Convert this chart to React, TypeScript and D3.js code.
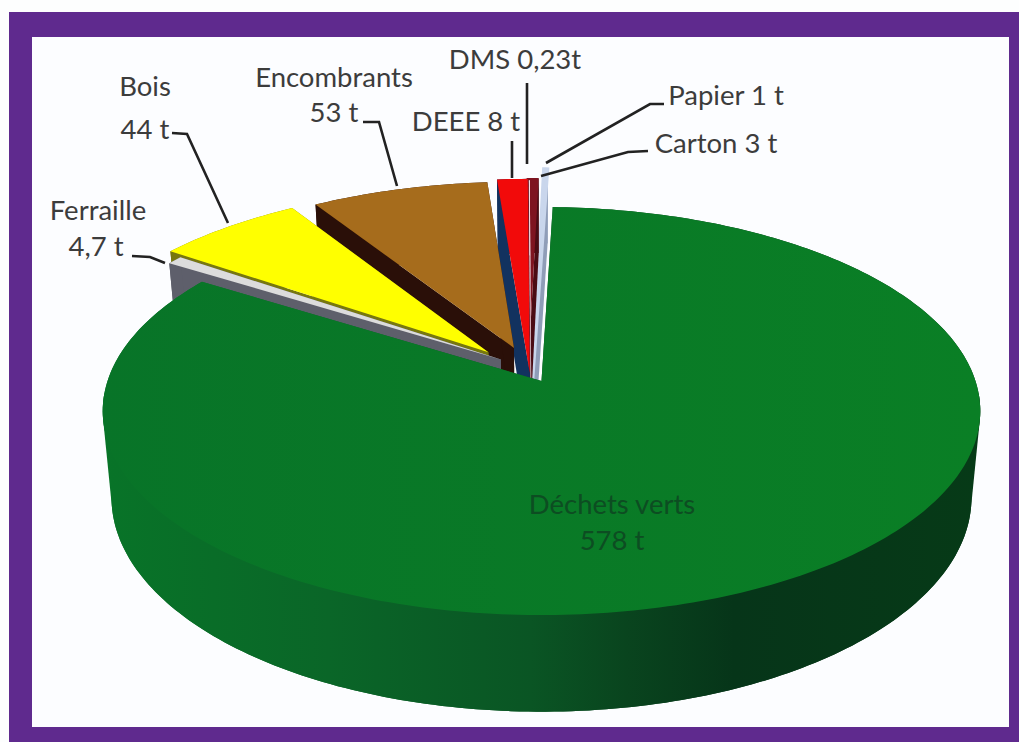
import * as d3 from "d3";

const slices = ["Déchets verts", "Ferraille", "Bois", "Encombrants", "DEEE", "DMS", "Carton", "Papier"];
const tonnes = [578, 4.7, 44, 53, 8, 0.23, 3, 1];

const topColors = ["url(#greenTop)", "#dcdcdc", "#ffff00", "#a66c1c", "#f20a0a", "#fbe9ee", "#7e1420", "#c9d6ec"];
const wallColors = ["url(#greenWall)", "#5e5f6b", "#77770f", "#2a0f08", "#12325f", "#d8c0c8", "#4a0c14", "#8f9db8"];
const outlineWidth = [0, 0, 0, 0, 0, 0, 0, 3];

// how far each slice is pulled out of the pie (disc coordinates), and its radius
const shiftU = [0, -0.095, -0.125, -0.065, -0.027, -0.024, -0.032, -0.02];
const shiftV = [0, -0.11, -0.147, -0.17, -0.04, -0.03, -0.015, -0.01];
const reach = [1, 1, 1, 1, 1.15, 1.15, 1.18, 1.25];

const labelLines = [
  "Déchets verts", "578 t", "Ferraille", "4,7 t", "Bois", "44 t", "Encombrants", "53 t",
  "DEEE 8 t", "DMS 0,23t", "Carton 3 t", "Papier 1 t",
];
const labelX = [612, 612, 98, 96, 145, 145, 334, 334, 466, 515, 716, 726];
const labelY = [507, 543, 213, 249, 89, 132, 80, 115, 124, 62, 146, 98];
const labelFill = ["#0d4d22", "#0d4d22", "#3c3c3c", "#3c3c3c", "#3c3c3c", "#3c3c3c", "#3c3c3c", "#3c3c3c", "#3c3c3c", "#3c3c3c", "#3c3c3c", "#3c3c3c"];

const leaders: [number, number][][] = [
  [[132, 256], [150, 257], [165, 263]],
  [[172, 133], [187, 134], [228, 223]],
  [[363, 122], [379, 122], [397, 186]],
  [[512, 141], [512, 178]],
  [[527, 83], [527, 164]],
  [[648, 151], [628, 152], [541, 176]],
  [[664, 104], [650, 104], [546, 163]],
];

// perspective of the disc
const centerX = 541.5;
const centerY = 381;
const discA = 434;
const discB = 199.6;
const tilt = 0.147;
const startDeg = 1.7;

function project(u: number, v: number, level: number): [number, number] {
  const w = 1 - tilt * v;
  if (level === 0) return [centerX + (discA * u) / w, centerY + (discB * v) / w];
  return [centerX + (0.98 * discA * u) / w, centerY + 85 + (1.05 * discB * v) / w];
}

const startRad = (startDeg * Math.PI) / 180;
const pie = d3.pie<number>().sort(null).startAngle(startRad).endAngle(startRad + 2 * Math.PI);
const arcs = pie(tonnes);
const line = d3.line();

function rimPoint(i: number, angle: number, level: number) {
  return project(
    shiftU[i] + reach[i] * Math.sin(angle),
    shiftV[i] - reach[i] * Math.cos(angle),
    level
  );
}

function rimAngles(i: number) {
  const n = Math.max(2, Math.ceil(((arcs[i].endAngle - arcs[i].startAngle) * 180) / Math.PI));
  const at = d3.interpolateNumber(arcs[i].startAngle, arcs[i].endAngle);
  return d3.range(n + 1).map((k) => at(k / n));
}

function Slice({ i }: { i: number }) {
  const angles = rimAngles(i);
  const topRim = angles.map((a) => rimPoint(i, a, 0));
  const bottomRim = angles.map((a) => rimPoint(i, a, 1));
  const apexTop = project(shiftU[i], shiftV[i], 0);
  const apexBottom = project(shiftU[i], shiftV[i], 1);
  const last = angles.length - 1;
  const walls = [
    [...topRim, ...[...bottomRim].reverse()],
    [apexTop, topRim[0], bottomRim[0], apexBottom],
    [apexTop, topRim[last], bottomRim[last], apexBottom],
  ];
  // hull of the front part so the sides run straight from the top rim to the bottom rim
  const front = angles.filter((a) => Math.cos(a) < -0.05);
  if (front.length > 2) {
    const hull = d3.polygonHull(front.flatMap((a) => [rimPoint(i, a, 0), rimPoint(i, a, 1)]));
    if (hull) walls.push(hull);
  }
  return (
    <g>
      {walls.map((w, k) => (
        <path key={k} d={line(w) + "Z"} fill={wallColors[i]} />
      ))}
      <path
        d={line([apexTop, ...topRim]) + "Z"}
        fill={topColors[i]}
        stroke={outlineWidth[i] ? topColors[i] : "none"}
        strokeWidth={outlineWidth[i]}
      />
    </g>
  );
}

export default function App() {
  // back slices first, the big green one goes on top of everything
  const order = d3.range(slices.length).reverse();
  return (
    <svg
      width={1019}
      height={742}
      style={{ position: "absolute", left: 0, top: 0, display: "block" }}
      fontFamily="Lato, 'Open Sans', sans-serif"
    >
      <defs>
        <linearGradient id="greenTop" gradientUnits="userSpaceOnUse" x1={100} y1={0} x2={980} y2={0}>
          <stop offset="0" stopColor="#087428" />
          <stop offset="1" stopColor="#0a7f25" />
        </linearGradient>
        <linearGradient id="greenWall" gradientUnits="userSpaceOnUse" x1={100} y1={0} x2={980} y2={0}>
          <stop offset="0" stopColor="#087428" />
          <stop offset="0.26" stopColor="#0a6628" />
          <stop offset="0.49" stopColor="#0a5524" />
          <stop offset="0.6" stopColor="#09441e" />
          <stop offset="0.72" stopColor="#063519" />
          <stop offset="1" stopColor="#063a17" />
        </linearGradient>
      </defs>
      <rect x={0} y={0} width={1019} height={742} fill="#fdfefe" />
      <rect x={9} y={12} width={1010} height={730} fill="#5f2a8e" />
      <rect x={32} y={37} width={977} height={690} fill="#fcfdff" />

      {order.map((i) => (
        <Slice key={slices[i]} i={i} />
      ))}

      {leaders.map((pts, k) => (
        <path key={k} d={line(pts) ?? ""} fill="none" stroke="#222" strokeWidth={2.6} />
      ))}

      {labelLines.map((t, k) => (
        <text
          key={k}
          x={labelX[k]}
          y={labelY[k]}
          textAnchor="middle"
          dominantBaseline="middle"
          fontSize={27.5}
          fill={labelFill[k]}
        >
          {t}
        </text>
      ))}
    </svg>
  );
}
